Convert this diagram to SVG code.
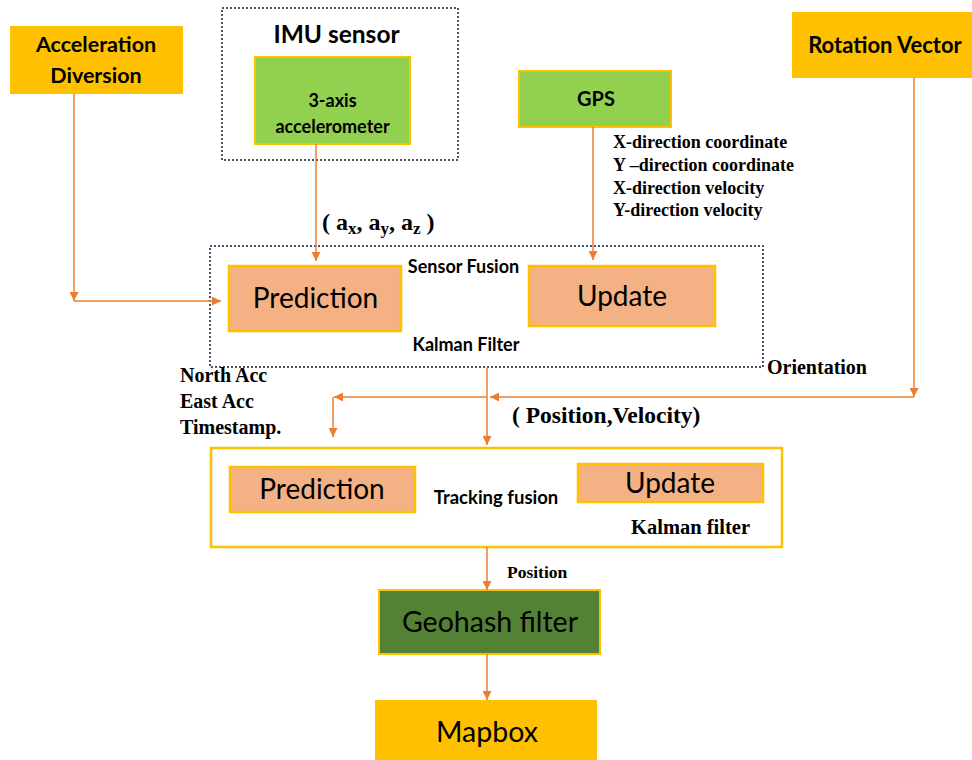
<svg xmlns="http://www.w3.org/2000/svg" width="972" height="760" viewBox="0 0 972 760">
<defs>
<marker id="ah" viewBox="0 0 10 10" refX="10" refY="5" markerWidth="9" markerHeight="9" markerUnits="userSpaceOnUse" orient="auto">
<path d="M0,0 L10,5 L0,10 z" fill="#ED7D31"/>
</marker>
<style>
.yel{fill:#FFC000;}
.lgr{fill:#92D050;stroke:#FFC000;stroke-width:2;}
.org{fill:#F4B183;stroke:#FFC000;stroke-width:2.5;}
.dgr{fill:#548235;stroke:#FFC000;stroke-width:2;}
.dot{fill:none;stroke:#44546A;stroke-width:2;stroke-dasharray:2 2;}
.frame{fill:#fff;stroke:#FFC000;stroke-width:2.5;}
.sb{font-family:Lato,"Open Sans",sans-serif;font-weight:bold;fill:#000;}
.sn{font-family:Lato,"Open Sans",sans-serif;fill:#000;}
.tb{font-family:"Liberation Serif","Times New Roman",serif;font-weight:bold;fill:#000;}
.con line{stroke:#ED7D31;stroke-width:1.5;}
</style>
</defs>

<g id="acc-div">
<rect class="yel" x="10" y="26" width="173" height="68"/>
<text class="sb" x="96" y="52" font-size="21.5" text-anchor="middle">Acceleration</text>
<text class="sb" x="96" y="83" font-size="21.5" text-anchor="middle">Diversion</text>
</g>

<g id="imu">
<rect class="dot" x="222" y="8" width="236" height="152"/>
<text class="sb" x="336.5" y="43" font-size="24.5" text-anchor="middle">IMU sensor</text>
</g>

<g id="accelerometer">
<rect class="lgr" x="255" y="57" width="155" height="87"/>
<text class="sb" x="332.5" y="107" font-size="18" text-anchor="middle">3-axis</text>
<text class="sb" x="332.5" y="133" font-size="18" text-anchor="middle">accelerometer</text>
</g>

<g id="gps">
<rect class="lgr" x="519" y="71" width="152" height="56"/>
<text class="sb" x="596" y="106" font-size="20" text-anchor="middle">GPS</text>
</g>

<g id="rotation">
<rect class="yel" x="792" y="12" width="180" height="66"/>
<text class="sb" x="885" y="53" font-size="22" text-anchor="middle">Rotation Vector</text>
</g>

<g id="sensor-fusion">
<rect class="dot" x="210" y="246" width="553" height="121"/>
<text class="sb" x="463.5" y="273" font-size="18" text-anchor="middle">Sensor Fusion</text>
<text class="sb" x="466" y="351" font-size="18" text-anchor="middle">Kalman Filter</text>
</g>

<g id="prediction1">
<rect class="org" x="229" y="266" width="172" height="65"/>
<text class="sn" x="315.5" y="308" font-size="28" text-anchor="middle">Prediction</text>
</g>

<g id="update1">
<rect class="org" x="529" y="266" width="186" height="60"/>
<text class="sn" x="622" y="306" font-size="28" text-anchor="middle">Update</text>
</g>

<g id="tracking-fusion">
<rect class="frame" x="211" y="448" width="571" height="99"/>
<text class="sb" x="496" y="504" font-size="18.5" text-anchor="middle">Tracking fusion</text>
<text class="tb" x="690.5" y="534" font-size="20.5" text-anchor="middle">Kalman filter</text>
</g>

<g id="prediction2">
<rect class="org" x="230" y="467" width="185" height="45"/>
<text class="sn" x="322" y="499" font-size="28" text-anchor="middle">Prediction</text>
</g>

<g id="update2">
<rect class="org" x="578" y="464" width="185" height="38"/>
<text class="sn" x="670" y="493" font-size="28" text-anchor="middle">Update</text>
</g>

<g id="geohash">
<rect class="dgr" x="379" y="590" width="221" height="64"/>
<text class="sn" x="490" y="632" font-size="28.5" text-anchor="middle">Geohash filter</text>
</g>

<g id="mapbox">
<rect class="yel" x="375" y="700" width="222" height="62"/>
<text class="sn" x="487" y="742" font-size="28.5" text-anchor="middle">Mapbox</text>
</g>

<g id="labels">
<text class="tb" x="322" y="230" font-size="24">( a<tspan font-size="17" dy="4">x</tspan><tspan dy="-4">, a</tspan><tspan font-size="17" dy="4">y</tspan><tspan dy="-4">, a</tspan><tspan font-size="17" dy="4">z</tspan><tspan dy="-4"> )</tspan></text>
<text class="tb" x="613" y="148" font-size="18">X-direction coordinate</text>
<text class="tb" x="613" y="171" font-size="18">Y –direction coordinate</text>
<text class="tb" x="613" y="194" font-size="18">X-direction velocity</text>
<text class="tb" x="613" y="216" font-size="18">Y-direction velocity</text>
<text class="tb" x="180" y="382" font-size="20">North Acc</text>
<text class="tb" x="180" y="408" font-size="20">East Acc</text>
<text class="tb" x="180" y="434" font-size="20">Timestamp.</text>
<text class="tb" x="767" y="374" font-size="20">Orientation</text>
<text class="tb" x="512" y="423" font-size="23.5">( Position,Velocity)</text>
<text class="tb" x="507" y="578" font-size="17.5">Position</text>
</g>

<g id="connectors" class="con">
<line x1="316" y1="144" x2="316" y2="261" marker-end="url(#ah)"/>
<line x1="74" y1="94" x2="74" y2="301" marker-end="url(#ah)"/>
<line x1="74" y1="301" x2="221" y2="301" marker-end="url(#ah)"/>
<line x1="593" y1="127" x2="593" y2="260" marker-end="url(#ah)"/>
<line x1="914" y1="78" x2="914" y2="397" marker-end="url(#ah)"/>
<line x1="914" y1="397" x2="490" y2="397" marker-end="url(#ah)"/>
<line x1="487" y1="397" x2="334" y2="397" marker-end="url(#ah)"/>
<line x1="333" y1="397" x2="333" y2="437" marker-end="url(#ah)"/>
<line x1="487" y1="367" x2="487" y2="445" marker-end="url(#ah)"/>
<line x1="487" y1="547" x2="487" y2="590" marker-end="url(#ah)"/>
<line x1="487" y1="654" x2="487" y2="700" marker-end="url(#ah)"/>
</g>
</svg>
